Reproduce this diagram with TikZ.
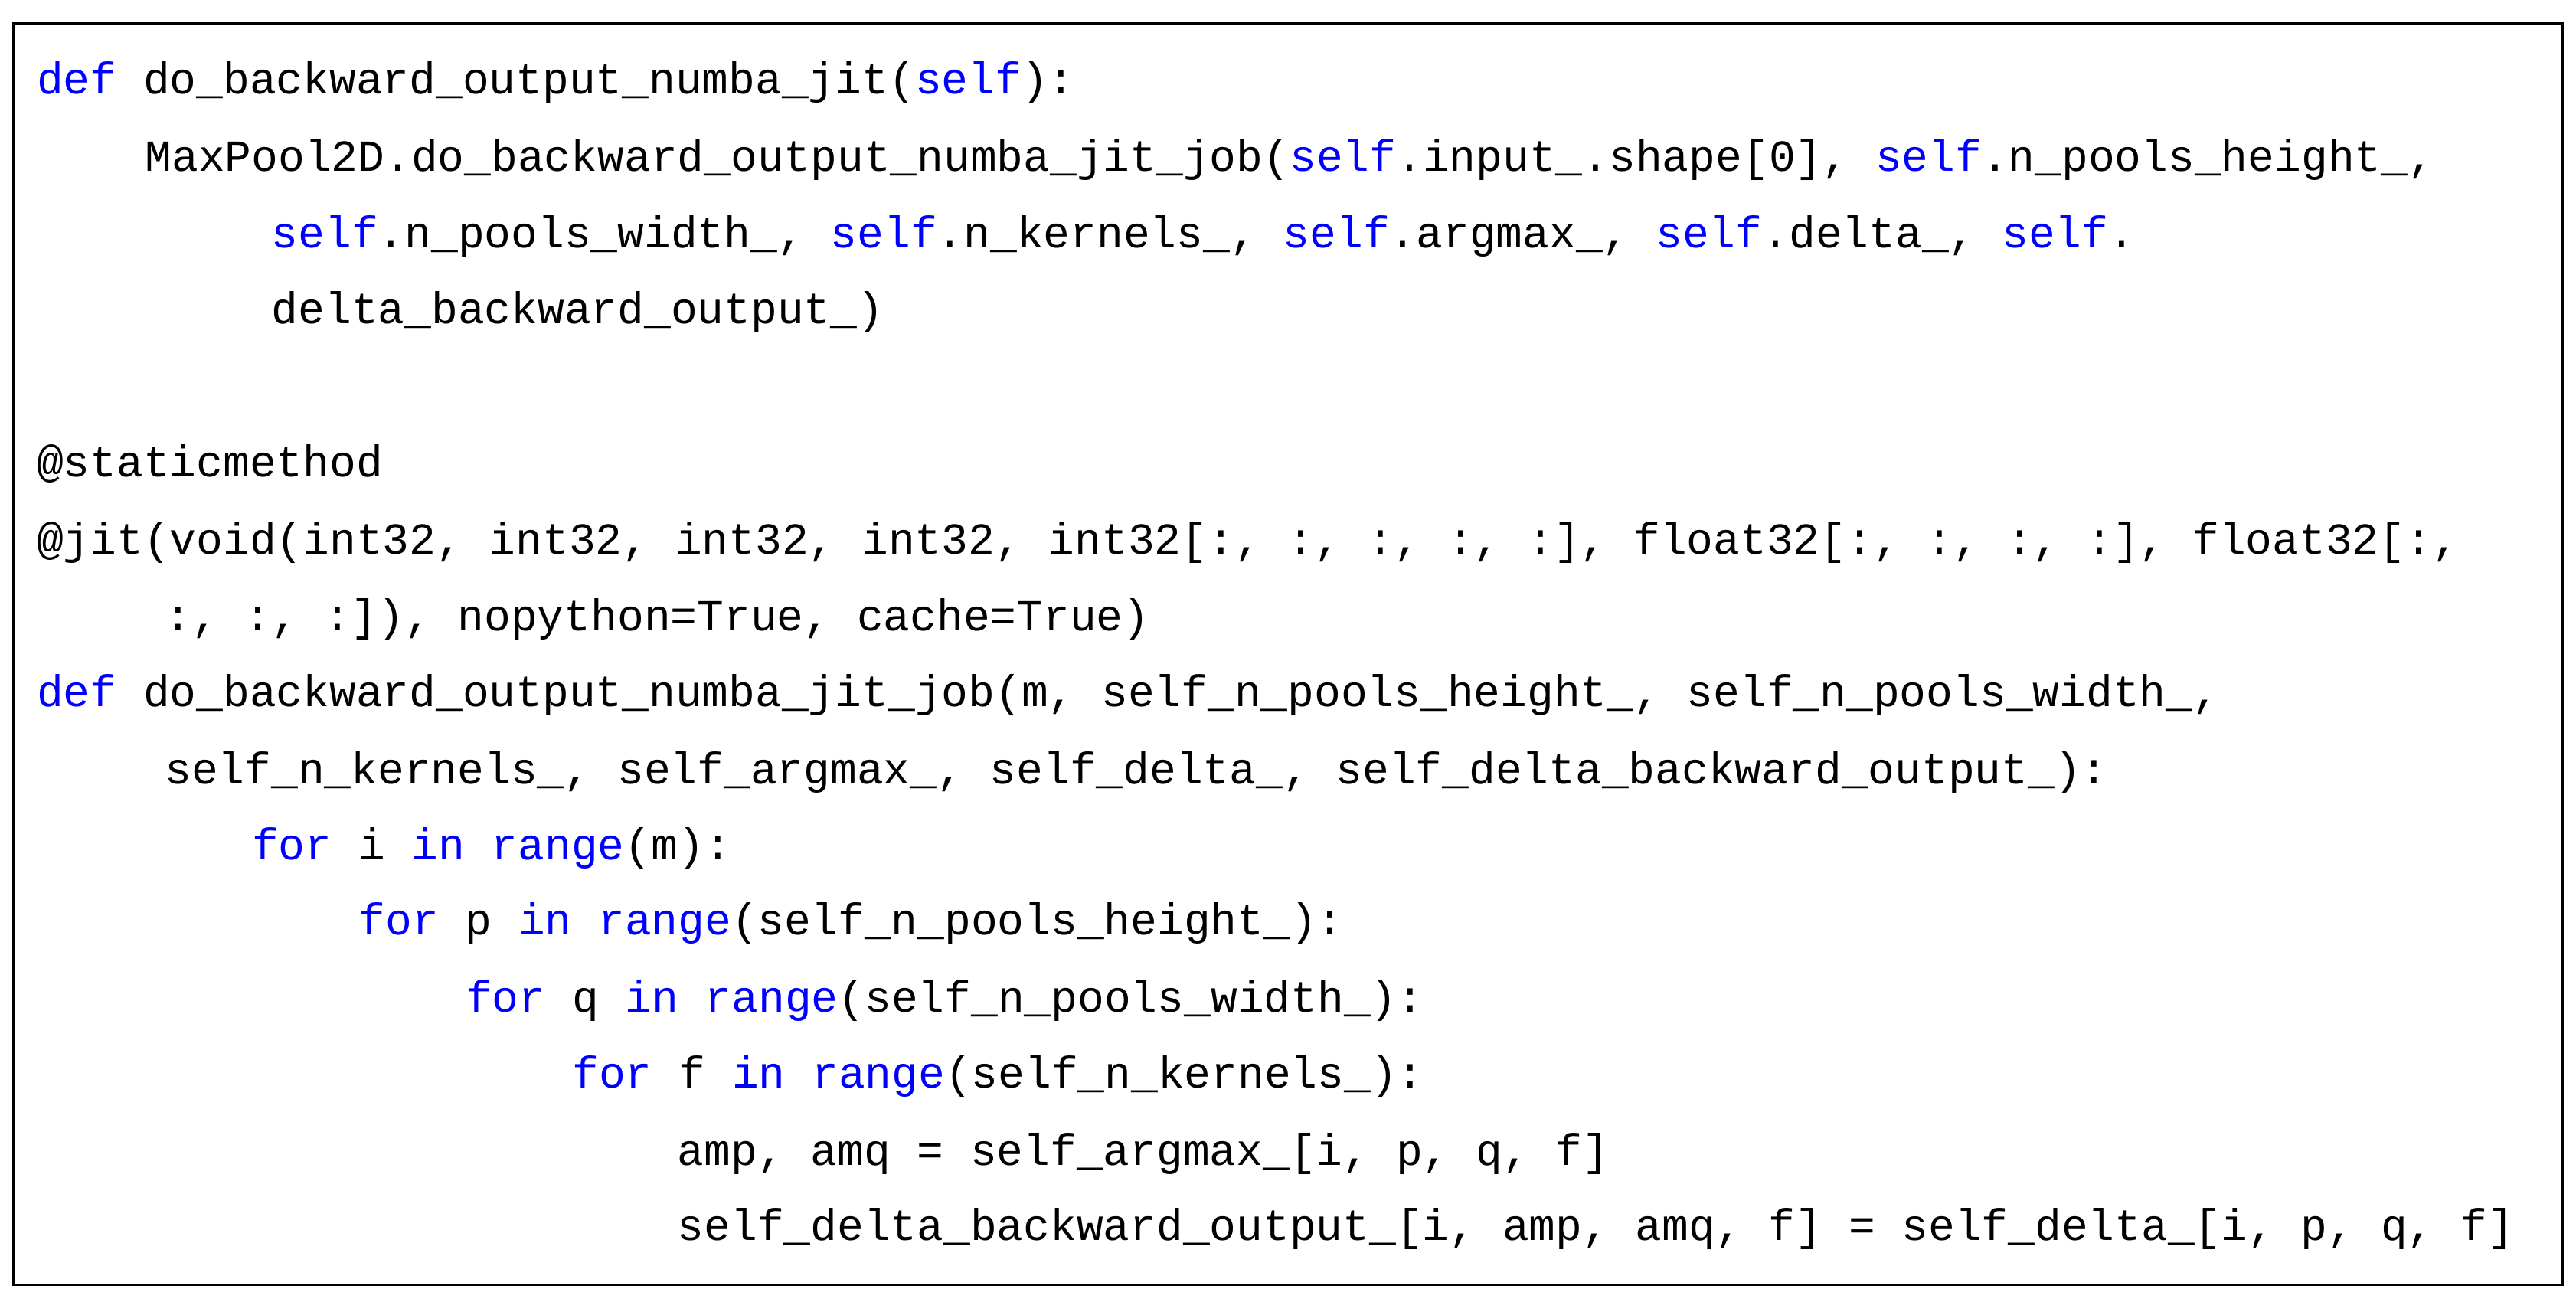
\documentclass[tikz,border=0pt]{standalone}
\usepackage{fontspec}
\setmonofont{Liberation Mono}
\usepackage{xcolor}
\definecolor{kwblue}{RGB}{0,0,255}
\newcommand{\kw}[1]{\textcolor{kwblue}{#1}}
\tikzset{codeline/.style={anchor=base west,inner sep=0pt,font=\ttfamily\fontsize{13.5pt}{13.5pt}\selectfont}}
\begin{document}
\begin{tikzpicture}[x=0.5pt,y=-0.5pt]
\useasboundingbox (0,0) rectangle (1568,792);
\draw[line width=0.7pt] (8,14) rectangle (1560,782);
\node[codeline] (l1) at (22,57) {\kw{def} do\_backward\_output\_numba\_jit(\kw{self}):};
\node[codeline] (l2) at (88,104) {MaxPool2D.do\_backward\_output\_numba\_jit\_job(\kw{self}.input\_.shape[0], \kw{self}.n\_pools\_height\_,};
\node[codeline] (l3) at (165,151) {\kw{self}.n\_pools\_width\_, \kw{self}.n\_kernels\_, \kw{self}.argmax\_, \kw{self}.delta\_, \kw{self}.};
\node[codeline] (l4) at (165,197) {delta\_backward\_output\_)};
\node[codeline] (l5) at (22,290) {@staticmethod};
\node[codeline] (l6) at (22,337) {@jit(void(int32, int32, int32, int32, int32[:, :, :, :, :], float32[:, :, :, :], float32[:,};
\node[codeline] (l7) at (100,384) {:, :, :]), nopython=True, cache=True)};
\node[codeline] (l8) at (22,430) {\kw{def} do\_backward\_output\_numba\_jit\_job(m, self\_n\_pools\_height\_, self\_n\_pools\_width\_,};
\node[codeline] (l9) at (100,477) {self\_n\_kernels\_, self\_argmax\_, self\_delta\_, self\_delta\_backward\_output\_):};
\node[codeline] (l10) at (153,523) {\kw{for} i \kw{in} \kw{range}(m):};
\node[codeline] (l11) at (218,569) {\kw{for} p \kw{in} \kw{range}(self\_n\_pools\_height\_):};
\node[codeline] (l12) at (283,616) {\kw{for} q \kw{in} \kw{range}(self\_n\_pools\_width\_):};
\node[codeline] (l13) at (348,662) {\kw{for} f \kw{in} \kw{range}(self\_n\_kernels\_):};
\node[codeline] (l14) at (412,709) {amp, amq = self\_argmax\_[i, p, q, f]};
\node[codeline] (l15) at (412,755) {self\_delta\_backward\_output\_[i, amp, amq, f] = self\_delta\_[i, p, q, f]};
\end{tikzpicture}
\end{document}
